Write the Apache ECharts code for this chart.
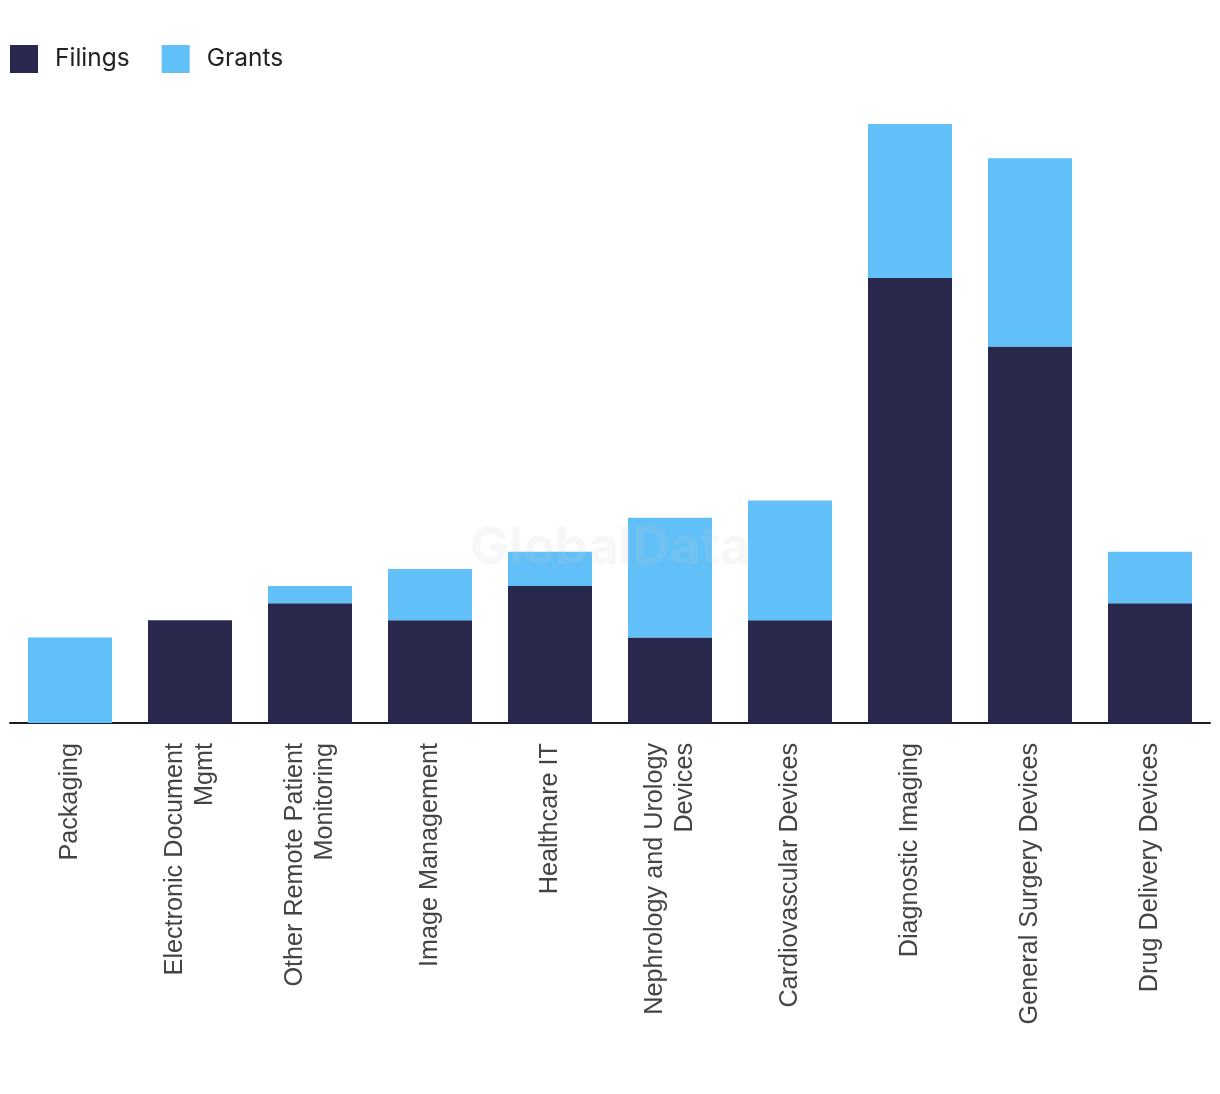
<!DOCTYPE html>
<html>
<head>
<meta charset="utf-8">
<script src="https://cdn.jsdelivr.net/npm/echarts@6/dist/echarts.min.js"></script>
<style>
html,body{margin:0;padding:0;background:#fff;}
#chart{width:1220px;height:1094px;}
</style>
</head>
<body>
<div id="chart"></div>
<script>
var categories = ["Packaging","Electronic Document\nMgmt","Other Remote Patient\nMonitoring","Image Management","Healthcare IT","Nephrology and Urology\nDevices","Cardiovascular Devices","Diagnostic Imaging","General Surgery Devices","Drug Delivery Devices"];
var filings = [0, 6, 7, 6, 8, 5, 6, 26, 22, 7];
var grants = [5, 0, 1, 3, 2, 7, 7, 9, 11, 3];

var chart = echarts.init(document.getElementById('chart'));
chart.setOption({
  animation: false,
  backgroundColor: '#ffffff',
  legend: {
    left: 5, top: 40,
    itemWidth: 28, itemHeight: 28, itemGap: 32,
    icon: 'rect',
    textStyle: {fontFamily: 'Inter', fontSize: 24.5, color: '#222', padding: [0,0,0,12]},
    data: ['Filings','Grants']
  },
  grid: {left: 10, right: 10, top: 124, bottom: 371, containLabel: false},
  xAxis: {
    type: 'category',
    data: categories,
    axisTick: {show: false},
    axisLine: {lineStyle: {color: '#1b1b2e', width: 2}},
    axisLabel: {rotate: 90, interval: 0, margin: 20, fontFamily: 'Liberation Sans', fontSize: 25.2, color: '#444', lineHeight: 30}
  },
  yAxis: {type: 'value', min: 0, max: 35, show: false, splitLine: {show: false}},
  series: [
    {name: 'Filings', type: 'bar', stack: 'a', data: filings, barWidth: 84, itemStyle: {color: '#27284b'}},
    {name: 'Grants', type: 'bar', stack: 'a', data: grants, barWidth: 84, itemStyle: {color: '#62c0f8'}}
  ],
  graphic: [{
    type: 'text', left: 'center', top: 522, z: 100,
    style: {text: 'GlobalData', font: 'bold 52px Inter', fill: 'rgba(200,200,200,0.15)'}
  }]
});
</script>
</body>
</html>
